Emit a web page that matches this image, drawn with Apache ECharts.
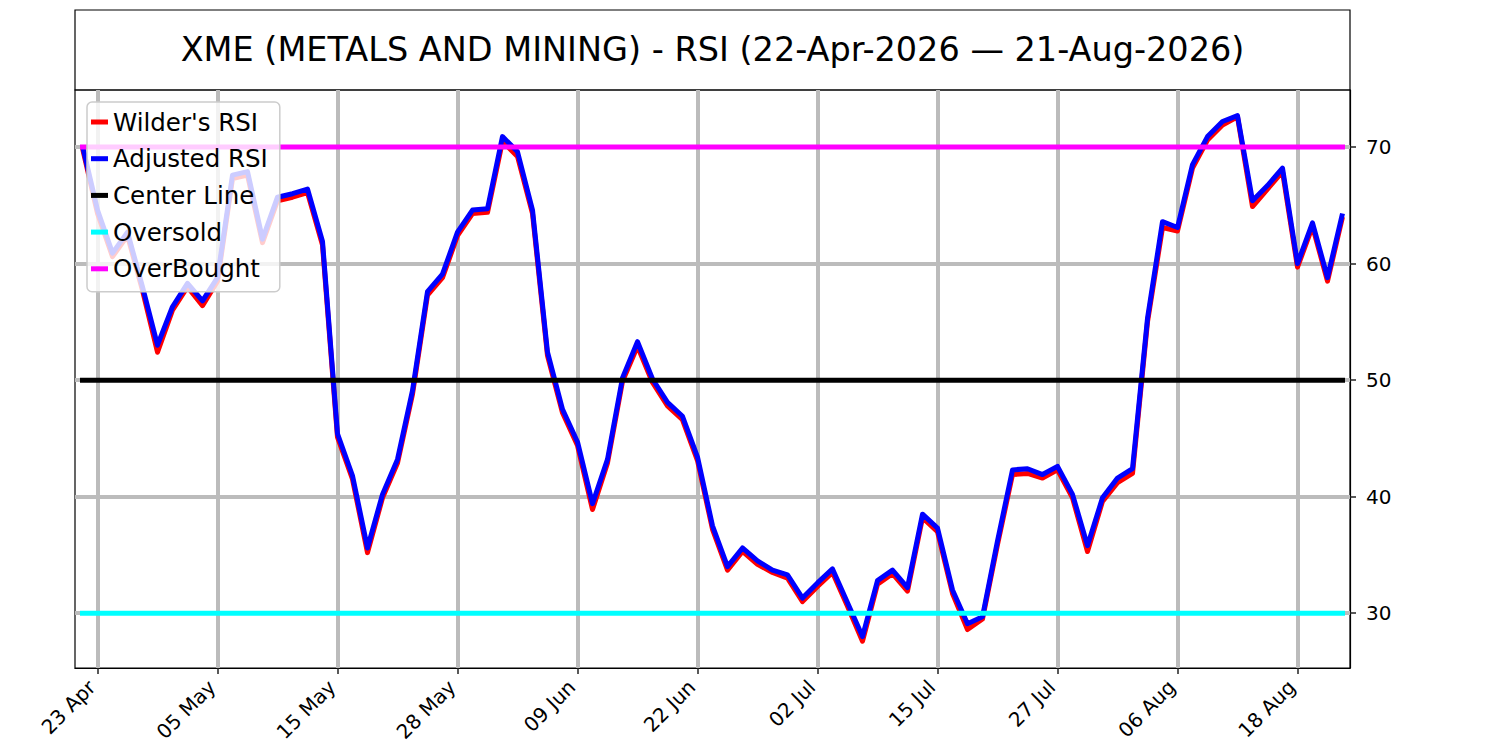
<!DOCTYPE html>
<html>
<head>
<meta charset="utf-8">
<title>XME RSI</title>
<script src="https://cdn.jsdelivr.net/npm/echarts@6.0.0/dist/echarts.min.js"></script>
<style>
	html, body { margin: 0; padding: 0; background: #fff; }
	#rsichart { width: 1500px; height: 750px; }
</style>
</head>
<body>
<div id="rsichart"></div>
<script>
// trading days 22-Apr-2026 .. 21-Aug-2026
var categories = [
	'22 Apr', '23 Apr', '24 Apr', '27 Apr', '28 Apr', '29 Apr', '30 Apr',
	'01 May', '04 May', '05 May', '06 May', '07 May', '08 May', '11 May', '12 May', '13 May', '14 May', '15 May',
	'18 May', '19 May', '20 May', '21 May', '22 May', '26 May', '27 May', '28 May', '29 May',
	'01 Jun', '02 Jun', '03 Jun', '04 Jun', '05 Jun', '08 Jun', '09 Jun', '10 Jun', '11 Jun', '12 Jun',
	'15 Jun', '16 Jun', '17 Jun', '18 Jun', '22 Jun', '23 Jun', '24 Jun', '25 Jun', '26 Jun', '29 Jun', '30 Jun',
	'01 Jul', '02 Jul', '06 Jul', '07 Jul', '08 Jul', '09 Jul', '10 Jul', '13 Jul', '14 Jul', '15 Jul',
	'16 Jul', '17 Jul', '20 Jul', '21 Jul', '22 Jul', '23 Jul', '24 Jul', '27 Jul', '28 Jul', '29 Jul', '30 Jul', '31 Jul',
	'03 Aug', '04 Aug', '05 Aug', '06 Aug', '07 Aug', '10 Aug', '11 Aug', '12 Aug', '13 Aug', '14 Aug',
	'17 Aug', '18 Aug', '19 Aug', '20 Aug', '21 Aug'
];

var tickLabels = ['23 Apr', '05 May', '15 May', '28 May', '09 Jun', '22 Jun', '02 Jul', '15 Jul', '27 Jul', '06 Aug', '18 Aug'];
var yTicks = [30, 40, 50, 60, 70];

var wilderRsi = [
	69.9, 64.3, 60.6, 62.4, 57.7, 52.4, 56.0, 58.0, 56.4, 58.5,
	67.3, 67.6, 61.8, 65.4, 65.7, 66.1, 61.6, 45.1, 41.5, 35.2,
	39.9, 42.9, 48.8, 57.3, 58.8, 62.4, 64.3, 64.4, 70.5, 69.2,
	64.3, 52.1, 47.2, 44.4, 38.9, 42.9, 49.9, 52.9, 49.8, 47.8,
	46.6, 43.1, 37.2, 33.7, 35.3, 34.2, 33.5, 33.0, 31.0, 32.3,
	33.5, 30.6, 27.6, 32.5, 33.4, 31.9, 38.2, 37.0, 31.7, 28.6,
	29.5, 35.9, 41.9, 42.0, 41.6, 42.3, 39.9, 35.3, 39.6, 41.2,
	42.0, 55.0, 63.1, 62.8, 68.2, 70.6, 71.9, 72.6, 64.9, 66.4,
	67.9, 59.7, 63.2, 58.5, 64.0
];

var adjustedRsi = [
	70.1, 64.6, 60.9, 62.7, 58.0, 53.0, 56.3, 58.3, 56.8, 58.8,
	67.6, 67.9, 62.1, 65.7, 66.0, 66.4, 61.9, 45.4, 41.8, 35.6,
	40.2, 43.2, 49.1, 57.6, 59.1, 62.7, 64.6, 64.7, 70.9, 69.6,
	64.6, 52.4, 47.5, 44.7, 39.4, 43.2, 50.2, 53.3, 50.1, 48.1,
	46.9, 43.4, 37.5, 34.0, 35.6, 34.5, 33.7, 33.3, 31.3, 32.6,
	33.8, 30.9, 28.0, 32.8, 33.7, 32.2, 38.5, 37.3, 32.0, 29.1,
	29.7, 36.2, 42.3, 42.4, 41.9, 42.6, 40.2, 35.8, 39.9, 41.6,
	42.4, 55.3, 63.6, 63.1, 68.5, 70.9, 72.2, 72.7, 65.4, 66.7,
	68.2, 60.0, 63.5, 58.8, 64.3
];

var centerLine = 50;
var oversold = 30;
var overbought = 70;

window.onload = function () {
	var rsiChart = echarts.init(document.getElementById('rsichart'), null, { renderer: 'svg' });

	var font = 'DejaVu Sans';
	var first = categories[0];
	var last = categories[categories.length - 1];

	function showTick(index, value) {
		return tickLabels.indexOf(value) > -1;
	}

	function levelLine(value) {
		return [[first, value], [last, value]];
	}

	// grid lines as marklines so they sit on the tick positions
	var gridLines = [];
	tickLabels.forEach(function (d) { gridLines.push({ xAxis: d }); });
	yTicks.forEach(function (v) { gridLines.push({ yAxis: v }); });

	var rsiOption = {
		animation: false,
		backgroundColor: '#fff',
		title: {
			text: 'XME (METALS AND MINING) - RSI (22-Apr-2026 \u2014 21-Aug-2026)',
			left: 712.5,
			top: 49,
			textAlign: 'center',
			textVerticalAlign: 'middle',
			padding: 0,
			textStyle: {
				color: '#000',
				fontSize: 33.5,
				fontWeight: 'normal',
				fontFamily: font
			}
		},
		graphic: [{
			type: 'rect',
			shape: { x: 75, y: 10, width: 1275, height: 80 },
			style: { fill: 'none', stroke: '#000', lineWidth: 1.2 },
			silent: true
		}],
		legend: {
			orient: 'vertical',
			left: 87,
			top: 102,
			z: 10,
			selectedMode: false,
			data: ["Wilder's RSI", 'Adjusted RSI', 'Center Line', 'Oversold', 'OverBought'],
			icon: 'rect',
			itemWidth: 17,
			itemHeight: 5,
			itemGap: 8.7,
			padding: [6, 12, 9, 4],
			backgroundColor: 'rgba(255,255,255,0.8)',
			borderColor: '#cccccc',
			borderWidth: 1.5,
			borderRadius: 5,
			textStyle: {
				color: '#000',
				fontSize: 24.5,
				lineHeight: 28,
				fontFamily: font
			}
		},
		grid: {
			show: true,
			left: 75,
			right: 150,
			top: 90,
			bottom: 82,
			borderColor: '#000',
			borderWidth: 1.2,
			backgroundColor: 'transparent'
		},
		xAxis: {
			type: 'category',
			data: categories,
			boundaryGap: true,
			axisLine: { show: true, lineStyle: { color: '#000', width: 1.2 } },
			axisTick: {
				show: true,
				alignWithLabel: true,
				interval: showTick,
				length: 6,
				lineStyle: { color: '#222', width: 1.5 }
			},
			axisLabel: {
				interval: showTick,
				rotate: 45,
				margin: 10,
				padding: [0, 8, 0, 0],
				color: '#000',
				fontSize: 20,
				fontFamily: font
			},
			splitLine: { show: false }
		},
		yAxis: {
			type: 'value',
			position: 'right',
			min: 25.3,
			max: 74.9,
			axisLine: { show: true, lineStyle: { color: '#000', width: 1.2 } },
			axisTick: {
				show: true,
				customValues: yTicks,
				length: 6,
				lineStyle: { color: '#222', width: 1.5 }
			},
			axisLabel: {
				customValues: yTicks,
				margin: 16,
				color: '#000',
				fontSize: 20,
				fontFamily: font
			},
			splitLine: { show: false }
		},
		series: [{
			name: 'grid',
			type: 'line',
			data: [],
			z: 1,
			silent: true,
			markLine: {
				silent: true,
				z: 1,
				symbol: 'none',
				animation: false,
				label: { show: false },
				emphasis: { disabled: true },
				lineStyle: { color: '#bcbcbc', width: 4, type: 'solid' },
				data: gridLines
			}
		}, {
			name: "Wilder's RSI",
			type: 'line',
			data: wilderRsi,
			z: 3,
			color: '#ff0000',
			showSymbol: false,
			lineStyle: { color: '#ff0000', width: 5, join: 'round' }
		}, {
			name: 'Adjusted RSI',
			type: 'line',
			data: adjustedRsi,
			z: 4,
			color: '#0000ff',
			showSymbol: false,
			lineStyle: { color: '#0000ff', width: 5, join: 'round' }
		}, {
			name: 'Center Line',
			type: 'line',
			data: levelLine(centerLine),
			z: 5,
			color: '#000000',
			showSymbol: false,
			lineStyle: { color: '#000000', width: 5, cap: 'square' }
		}, {
			name: 'Oversold',
			type: 'line',
			data: levelLine(oversold),
			z: 5,
			color: '#00ffff',
			showSymbol: false,
			lineStyle: { color: '#00ffff', width: 5, cap: 'square' }
		}, {
			name: 'OverBought',
			type: 'line',
			data: levelLine(overbought),
			z: 5,
			color: '#ff00ff',
			showSymbol: false,
			lineStyle: { color: '#ff00ff', width: 5, cap: 'square' }
		}]
	};

	rsiChart.setOption(rsiOption);
};
</script>
</body>
</html>
